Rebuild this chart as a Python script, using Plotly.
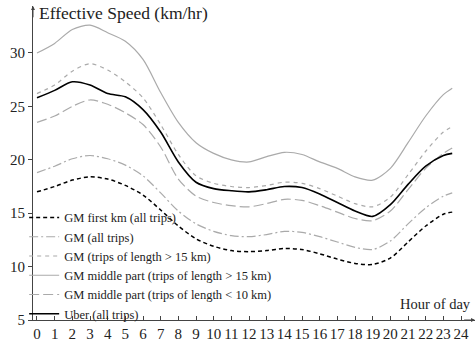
import plotly.graph_objects as go

hours = [0, 1, 2, 3, 4, 5, 6, 7, 8, 9, 10, 11, 12, 13, 14, 15, 16, 17, 18, 19, 20, 21, 22, 23, 23.5]

gm_first_km = [17.0, 17.5, 18.1, 18.4, 18.2, 17.6, 16.7, 15.3, 13.8, 12.6, 11.9, 11.5, 11.4, 11.5, 11.7, 11.6, 11.2, 10.7, 10.3, 10.2, 10.8, 12.3, 13.8, 14.9, 15.1]
gm_all = [18.8, 19.4, 20.1, 20.4, 20.1, 19.5, 18.5, 16.9, 15.2, 14.0, 13.3, 12.9, 12.8, 13.0, 13.3, 13.2, 12.8, 12.3, 11.8, 11.6, 12.4, 14.0, 15.5, 16.6, 16.9]
gm_long = [26.2, 27.0, 28.3, 29.0, 28.4, 27.3, 25.8, 23.3, 20.5, 18.5, 17.8, 17.5, 17.4, 17.6, 17.9, 17.8, 17.3, 16.6, 15.9, 15.6, 16.5, 18.6, 20.8, 22.6, 23.1]
gm_mid_long = [30.0, 30.9, 32.2, 32.6, 31.9, 31.1, 29.4, 26.3, 23.5, 21.6, 20.6, 20.0, 19.8, 20.3, 20.7, 20.5, 19.8, 19.2, 18.4, 18.1, 19.2, 21.6, 24.1, 26.1, 26.7]
gm_mid_short = [23.5, 24.1, 25.0, 25.6, 25.2, 24.4, 23.3, 21.2, 18.2, 16.6, 16.0, 15.7, 15.6, 15.9, 16.3, 16.2, 15.7, 15.1, 14.5, 14.3, 15.2, 17.2, 19.2, 20.6, 21.1]
uber = [25.8, 26.5, 27.3, 27.0, 26.2, 25.9, 24.7, 22.6, 19.8, 17.9, 17.3, 17.1, 17.0, 17.2, 17.5, 17.4, 16.8, 16.0, 15.2, 14.7, 15.8, 17.7, 19.4, 20.4, 20.6]

names = [
    "GM first km (all trips)",
    "GM (all trips)",
    "GM (trips of length > 15 km)",
    "GM middle part (trips of length > 15 km)",
    "GM middle part (trips of length < 10 km)",
    "Uber (all trips)",
]
series = [gm_first_km, gm_all, gm_long, gm_mid_long, gm_mid_short, uber]
colors = ["#000000", "#aaaaaa", "#aaaaaa", "#aaaaaa", "#aaaaaa", "#000000"]
dashes = ["4px,3px", "9px,3px,2px,3px", "4px,4px", "solid", "10px,4px", "solid"]
widths = [1.5, 1.2, 1.2, 1.2, 1.2, 1.6]

FONT = "Liberation Serif"

fig = go.Figure()
for n, s, c, d, w in zip(names, series, colors, dashes, widths):
    fig.add_trace(go.Scatter(x=hours, y=s, name=n, mode="lines",
                             line=dict(color=c, dash=d, width=w, shape="spline", smoothing=0.8)))

xr = [-0.226, 24.79]
yr = [5, 34.4]

fig.update_layout(
    width=475, height=343,
    margin=dict(l=33, r=0, t=6, b=23),
    plot_bgcolor="white", paper_bgcolor="white",
    font=dict(family=FONT, size=15, color="#222222"),
    showlegend=True,
    legend=dict(x=-0.02, y=0.373, xanchor="left", yanchor="top",
                font=dict(family=FONT, size=12.5, color="#222222"),
                bgcolor="rgba(0,0,0,0)", tracegroupgap=0,
                itemwidth=30),
    xaxis=dict(range=xr, showgrid=False, zeroline=False, showline=True, linecolor="#444444", linewidth=1,
               tickmode="array", tickvals=list(range(0, 25)), ticks="inside", ticklen=4, tickcolor="#444444",
               tickfont=dict(size=15)),
    yaxis=dict(range=yr, showgrid=False, zeroline=False, showline=True, linecolor="#444444", linewidth=1,
               tickmode="array", tickvals=[5, 10, 15, 20, 25, 30], ticks="outside", ticklen=4, tickcolor="#444444",
               tickfont=dict(size=15)),
    annotations=[
        dict(x=xr[0], y=yr[1], ax=xr[0], ay=yr[1] - 1.2, xref="x", yref="y", axref="x", ayref="y",
             showarrow=True, arrowhead=2, arrowsize=0.8, arrowwidth=1, arrowcolor="#444444", text=""),
        dict(x=xr[1], y=yr[0], ax=xr[1] - 0.7, ay=yr[0], xref="x", yref="y", axref="x", ayref="y",
             showarrow=True, arrowhead=2, arrowsize=0.8, arrowwidth=1, arrowcolor="#444444", text=""),
        dict(x=0.0, y=1.0, xref="x", yref="paper", xanchor="left", yanchor="middle", yshift=-7,
             text="Effective Speed (km/hr)", showarrow=False, font=dict(size=17.5)),
        dict(x=1.0, y=0.0, xref="paper", yref="paper", xanchor="right", yanchor="bottom", yshift=6, xshift=-2,
             text="Hour of day", showarrow=False, font=dict(size=14.5)),
    ],
)

fig.write_html("out.html")
